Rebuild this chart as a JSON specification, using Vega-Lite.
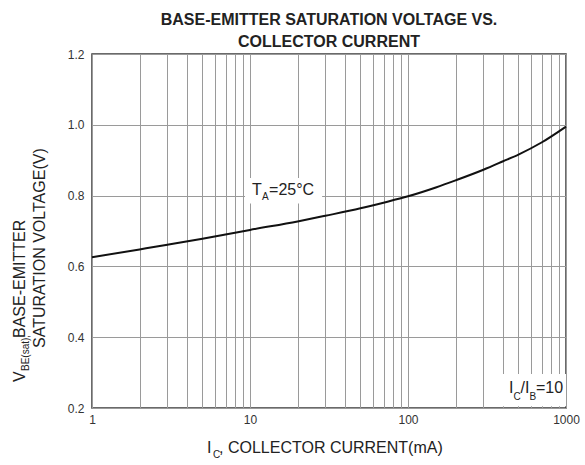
{
  "$schema": "https://vega.github.io/schema/vega-lite/v6.json",
  "width": 474,
  "height": 354,
  "autosize": {"type": "none"},
  "padding": {"left": 92, "top": 54, "right": 19, "bottom": 57},
  "background": "white",
  "config": {"view": {"stroke": "#3a3a3a", "strokeWidth": 1.5}, "font": "Liberation Sans"},
  "title": {
    "text": ["BASE-EMITTER SATURATION VOLTAGE VS.", "COLLECTOR CURRENT"],
    "fontSize": 16, "fontWeight": "bold", "color": "#222", "anchor": "middle",
    "lineHeight": 22, "offset": -2, "font": "Liberation Sans"
  },
  "datasets": {
    "curve": [
      {"ic": 1, "vbe": 0.626},
      {"ic": 2, "vbe": 0.648},
      {"ic": 3, "vbe": 0.661},
      {"ic": 5, "vbe": 0.678},
      {"ic": 7, "vbe": 0.69},
      {"ic": 10, "vbe": 0.703},
      {"ic": 20, "vbe": 0.727},
      {"ic": 30, "vbe": 0.743},
      {"ic": 50, "vbe": 0.764},
      {"ic": 70, "vbe": 0.78},
      {"ic": 100, "vbe": 0.798},
      {"ic": 150, "vbe": 0.823},
      {"ic": 200, "vbe": 0.843},
      {"ic": 300, "vbe": 0.873},
      {"ic": 400, "vbe": 0.897},
      {"ic": 500, "vbe": 0.916},
      {"ic": 700, "vbe": 0.95},
      {"ic": 1000, "vbe": 0.995}
    ],
    "boxes": [
      {"x": 9.3, "x2": 28.6, "y": 0.85, "y2": 0.778},
      {"x": 395, "x2": 1000, "y": 0.296, "y2": 0.205}
    ],
    "mainText": [
      {"x": 10.3, "y": 0.802, "t": "T"},
      {"x": 13.2, "y": 0.802, "t": "=25°C"},
      {"x": 436, "y": 0.2424, "t": "I"},
      {"x": 516, "y": 0.2424, "t": "/I"},
      {"x": 646, "y": 0.2424, "t": "=10"},
      {"x": 5.35, "y": 0.0729, "t": "I"},
      {"x": 6.37, "y": 0.0729, "t": ", COLLECTOR CURRENT(mA)"}
    ],
    "subText": [
      {"x": 11.9, "y": 0.7876, "t": "A"},
      {"x": 465, "y": 0.2226, "t": "C"},
      {"x": 587, "y": 0.2226, "t": "B"},
      {"x": 5.83, "y": 0.0588, "t": "C"}
    ],
    "yMain": [
      {"x": 0.377, "y": 0.2734, "t": "V"},
      {"x": 0.377, "y": 0.3977, "t": " BASE-EMITTER"},
      {"x": 0.504, "y": 0.3695, "t": "SATURATION VOLTAGE(V)"}
    ],
    "ySub": [
      {"x": 0.399, "y": 0.3045, "t": "BE(sat),"}
    ]
  },
  "layer": [
    {
      "data": {"name": "curve"},
      "mark": {"type": "line", "color": "#111", "strokeWidth": 2, "interpolate": "monotone"},
      "encoding": {
        "x": {
          "field": "ic", "type": "quantitative",
          "scale": {"type": "log", "domain": [1, 1000], "nice": false},
          "axis": {
            "values": [1,2,3,4,5,6,7,8,9,10,20,30,40,50,60,70,80,90,100,200,300,400,500,600,700,800,900,1000],
            "labelExpr": "(datum.value==1||datum.value==10||datum.value==100||datum.value==1000) ? format(datum.value,'d') : ''",
            "grid": true, "gridColor": "#9a9a9a", "gridWidth": 1, "gridOpacity": 1,
            "ticks": false, "domain": false, "title": null,
            "labelFontSize": 12, "labelColor": "#333", "labelPadding": 6,
            "labelOverlap": false, "labelBound": false, "labelFlush": false
          }
        },
        "y": {
          "field": "vbe", "type": "quantitative",
          "scale": {"domain": [0.2, 1.2], "nice": false, "zero": false},
          "axis": {
            "values": [0.2,0.3,0.4,0.5,0.6,0.7,0.8,0.9,1.0,1.1,1.2],
            "labelExpr": "round(datum.value*10)%2==0 ? format(datum.value,'.1f') : ''",
            "grid": true, "gridColor": "#9a9a9a", "gridWidth": 1, "gridOpacity": 1,
            "ticks": false, "domain": false, "title": null,
            "labelFontSize": 12, "labelColor": "#333", "labelPadding": 8,
            "labelOverlap": false, "labelBound": false, "labelFlush": false
          }
        }
      }
    },
    {
      "data": {"name": "boxes"},
      "mark": {"type": "rect", "color": "white"},
      "encoding": {
        "x": {"field": "x", "type": "quantitative"},
        "x2": {"field": "x2"},
        "y": {"field": "y", "type": "quantitative"},
        "y2": {"field": "y2"}
      }
    },
    {
      "data": {"name": "mainText"},
      "mark": {"type": "text", "fontSize": 16, "align": "left", "baseline": "alphabetic", "color": "#222"},
      "encoding": {
        "x": {"field": "x", "type": "quantitative"},
        "y": {"field": "y", "type": "quantitative"},
        "text": {"field": "t"}
      }
    },
    {
      "data": {"name": "subText"},
      "mark": {"type": "text", "fontSize": 10, "align": "left", "baseline": "alphabetic", "color": "#222"},
      "encoding": {
        "x": {"field": "x", "type": "quantitative"},
        "y": {"field": "y", "type": "quantitative"},
        "text": {"field": "t"}
      }
    },
    {
      "data": {"name": "yMain"},
      "mark": {"type": "text", "fontSize": 16, "align": "left", "baseline": "alphabetic", "angle": 270, "color": "#222"},
      "encoding": {
        "x": {"field": "x", "type": "quantitative"},
        "y": {"field": "y", "type": "quantitative"},
        "text": {"field": "t"}
      }
    },
    {
      "data": {"name": "ySub"},
      "mark": {"type": "text", "fontSize": 10, "align": "left", "baseline": "alphabetic", "angle": 270, "color": "#222"},
      "encoding": {
        "x": {"field": "x", "type": "quantitative"},
        "y": {"field": "y", "type": "quantitative"},
        "text": {"field": "t"}
      }
    }
  ]
}
